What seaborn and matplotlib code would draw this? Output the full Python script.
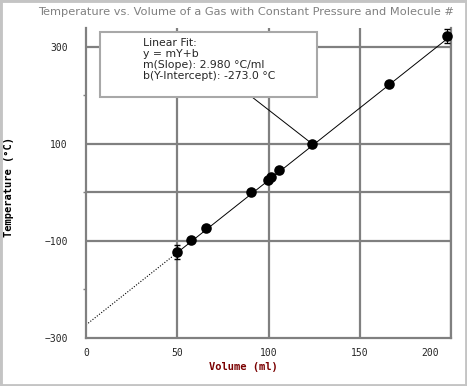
import numpy as np
import pandas as pd
import seaborn as sns
import matplotlib
matplotlib.use("Agg")
import matplotlib.pyplot as plt
import matplotlib.patches as patches
import matplotlib.transforms as mtransforms

# values
volume = [50, 57.5, 65.5, 90.5, 99.5, 101.5, 106, 124, 166, 198]
temperature = [-123, -99, -74, 0, 26, 31, 46, 100, 223, 323]
temp_err = [14, 0, 0, 0, 0, 0, 0, 0, 0, 14]
slope = 2.980
intercept = -273.0
fit_solid_x = [50, 200]
fit_dotted_x = [0, 50]
x_ticks = [0, 50, 100, 150, 200]
y_ticks = [-300, -100, 100, 300]
y_minor = [-200, 0, 200]

title = "Temperature vs. Volume of a Gas with Constant Pressure and Molecule #"
fit_text = ("Linear Fit:\ny = mY+b\nm(Slope): 2.980 \u00b0C/ml\n"
            "b(Y-Intercept): -273.0 \u00b0C")

df = pd.DataFrame({"volume": volume, "temperature": temperature, "err": temp_err})

sns.set_style("white")
W, H = 467, 386
fig = plt.figure(figsize=(W / 100, H / 100), dpi=100)
ax = fig.add_axes([86 / W, 1 - 338 / H, 365 / W, 310 / H])

grid_c = "#808080"
mono = "DejaVu Sans Mono"

# gridlines
for x in [50, 100, 150, 200]:
    ax.axvline(x, color=grid_c, lw=1.6, zorder=1)
for y in [-100, 0, 100, 300]:
    ax.axhline(y, color=grid_c, lw=1.6, zorder=1)

# fit line
fx = np.array(fit_solid_x)
ax.plot(fx, slope * fx + intercept, color="black", lw=0.7, zorder=2)
dx = np.array(fit_dotted_x)
ax.plot(dx, slope * dx + intercept, color="black", lw=0.8, ls=(0, (1, 1.5)), zorder=2)

# error bars where present
e = df[df["err"] > 0]
ax.errorbar(e["volume"], e["temperature"], yerr=e["err"], fmt="none",
            ecolor="black", elinewidth=0.8, capsize=2, zorder=3)

sns.scatterplot(data=df, x="volume", y="temperature", ax=ax, color="black",
                s=58, edgecolor="black", linewidth=0, zorder=4, clip_on=False)

ax.set_xlim(0, 200)
ax.set_ylim(-300, 339)
ax.set_xticks(x_ticks)
ax.set_yticks(y_ticks)
ax.set_yticks(y_minor, minor=True)

for side in ["left", "bottom", "right"]:
    ax.spines[side].set_color(grid_c)
    ax.spines[side].set_linewidth(1.6)
ax.spines["top"].set_visible(False)

ax.tick_params(axis="y", which="major", length=4, width=1.2, color=grid_c,
               pad=9, labelsize=7)
ax.tick_params(axis="y", which="minor", length=2, width=1, color=grid_c, left=True)
ax.tick_params(axis="x", which="major", length=3, width=1.2, color=grid_c,
               pad=4, labelsize=7)
for lab in ax.get_xticklabels() + ax.get_yticklabels():
    lab.set_fontfamily(mono)
last = ax.get_xticklabels()[-1]
last.set_transform(last.get_transform() +
                   mtransforms.ScaledTranslation(-21 / 100, 0, fig.dpi_scale_trans))

ax.set_xlabel("Volume (ml)", fontfamily=mono, fontweight="bold", fontsize=7.5,
              color="#7a0000")
ax.xaxis.set_label_coords((243 - 86) / 365, (338 - 362) / 310)
ax.set_ylabel("Temperature (\u00b0C)", fontfamily=mono, fontweight="bold",
              fontsize=7.5, color="black")
ax.yaxis.set_label_coords((14 - 86) / 365, (338 - 187) / 310)

fig.text(454 / W, 1 - 12 / H, title, ha="right", va="center", fontsize=8.2,
         color="#808080", fontfamily="DejaVu Sans")

# annotation box with connector
box = patches.Rectangle((100 / W, 1 - 97 / H), 217 / W, 65 / H,
                        transform=fig.transFigure, facecolor="white",
                        edgecolor="#a8a8a8", lw=1.5, zorder=6, clip_on=False)
ax.add_patch(box)
ax.text(143 / W, 1 - 38 / H, fit_text, transform=fig.transFigure, ha="left",
        va="top", fontsize=7.8, linespacing=1.12, fontfamily="DejaVu Sans",
        zorder=7)
ax.annotate("", xy=(124, 100), xycoords="data",
            xytext=(252 / W, 1 - 97 / H), textcoords="figure fraction",
            arrowprops=dict(arrowstyle="-", color="black", lw=0.7,
                            shrinkA=0, shrinkB=0), zorder=5)

# outer frame
fig.patches.append(patches.Rectangle((0, 0), 1, 1, transform=fig.transFigure,
                                     fill=False, edgecolor="#c4c4c4", lw=3.5))

fig.savefig("out.png", dpi=100)
